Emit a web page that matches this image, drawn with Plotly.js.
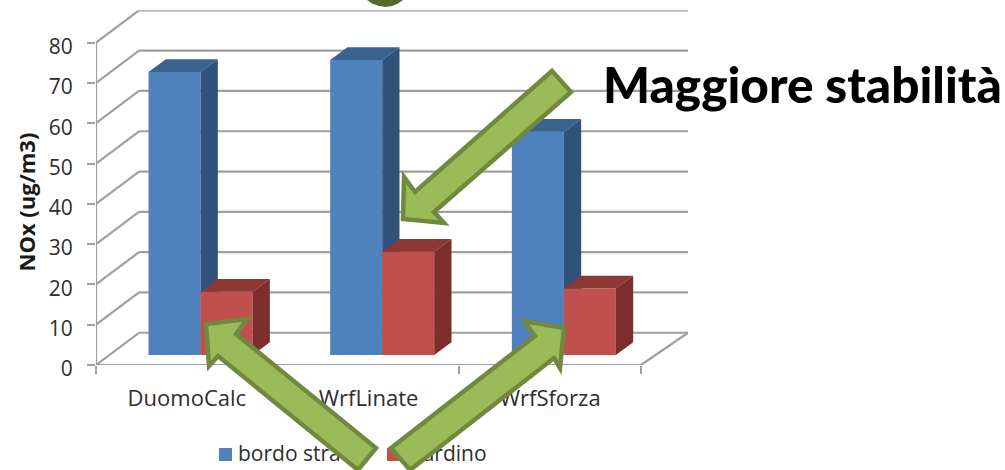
<!DOCTYPE html>
<html>
<head>
<meta charset="utf-8">
<script src="https://cdn.plot.ly/plotly-3.0.1.min.js"></script>
<style>html,body{margin:0;padding:0;background:#fff}#chart{width:1005px;height:470px}</style>
</head>
<body>
<div id="chart"></div>
<script>
// NOx concentration per model, roadside versus garden
const categories = ['DuomoCalc', 'WrfLinate', 'WrfSforza'];
const seriesNames = ['bordo strada', 'giardino'];
const bordoStrada = [70.2, 73.2, 55.4];
const giardino = [15.7, 25.6, 16.5];
const yTicks = [0, 10, 20, 30, 40, 50, 60, 70, 80];

// Page geometry of the pseudo-3D chart, in pixels
const W = 1005, H = 470;
const catPx = 181.67, unitPx = 4.03;
const axisLeft = 96, axisBottom = 365;
const wallDepthLeft = 43 / catPx, wallDepthRight = 47 / catPx, wallDepthVal = 8;
const barShiftX = 13.7, barShiftY = 10;
const barWidth = 52 / catPx;
const barDepthCat = 17.3 / catPx, barDepthVal = 12.8 / unitPx;

const xRange = [-0.5, 2.5 + wallDepthRight];
const yRange = [0, 80 + wallDepthVal];
const xSpan = (xRange[1] - xRange[0]) * catPx;
const ySpan = (yRange[1] - yRange[0]) * unitPx;

const px = x => x / W;
const py = y => 1 - y / H;
const xDomain = shift => [px(axisLeft + shift), px(axisLeft + shift + xSpan)];
const yDomain = shift => [py(axisBottom - shift), py(axisBottom - shift - ySpan)];

const GRID = '#a0a0a0';
const TEXT = '#2e2e2e';
const BLUE = {front: '#4f81bd', top: '#3a6291', side: '#31527b'};
const RED = {front: '#c0504d', top: '#8e3836', side: '#7b2e2c'};

// Wire frame: side wall, back wall, floor
function frameTrace() {
  const xs = [], ys = [];
  const seg = (x0, y0, x1, y1) => { xs.push(x0, x1, null); ys.push(y0, y1, null); };
  const x0 = xRange[0], x1 = 2.5;
  yTicks.forEach(v => {
    seg(x0, v, x0 + wallDepthLeft, v + wallDepthVal);
    seg(x0 + wallDepthLeft, v + wallDepthVal, x1 + wallDepthRight, v + wallDepthVal);
  });
  seg(x0, 0, x0, 80);
  seg(x0, 0, x1, 0);
  seg(x1, 0, x1 + wallDepthRight, wallDepthVal);
  return {x: xs, y: ys, mode: 'lines', line: {color: GRID, width: 2.2},
          xaxis: 'x', yaxis: 'y', hoverinfo: 'skip', showlegend: false};
}

// Top and side faces follow each bar's value
function faceTrace(values, offset, face, color, ax) {
  const xs = [], ys = [];
  values.forEach((v, i) => {
    const l = i + offset, r = l + barWidth;
    const pts = face === 'top'
      ? [[l, v], [r, v], [r + barDepthCat, v + barDepthVal], [l + barDepthCat, v + barDepthVal]]
      : [[r, 0], [r + barDepthCat, barDepthVal], [r + barDepthCat, v + barDepthVal], [r, v]];
    pts.forEach(p => { xs.push(p[0]); ys.push(p[1]); });
    xs.push(pts[0][0], null); ys.push(pts[0][1], null);
  });
  return {x: xs, y: ys, mode: 'lines', fill: 'toself', fillcolor: color,
          line: {width: 0, color: color}, xaxis: 'x' + ax, yaxis: 'y' + ax,
          hoverinfo: 'skip', showlegend: false};
}

function barTrace(name, values, offset, color, ax) {
  return {type: 'bar', name: name, x: [0, 1, 2], y: values,
          width: barWidth, offset: offset, marker: {color: color, line: {width: 0}},
          xaxis: 'x' + ax, yaxis: 'y' + ax, showlegend: false};
}

// Key entries sit on their own full-page layer so the arrows can pass over them
function keySwatch(color, swatchX) {
  return {x: [swatchX], y: [454.5], mode: 'markers',
          marker: {symbol: 'square', size: 13, color: color},
          xaxis: 'x4', yaxis: 'y4', hoverinfo: 'skip', showlegend: false};
}
function keyLabel(name, textX) {
  return {x: [textX], y: [455.5], mode: 'text', text: [name], textposition: 'middle right',
          textfont: {family: 'Open Sans', size: 21, color: TEXT},
          xaxis: 'x4', yaxis: 'y4', hoverinfo: 'skip', showlegend: false};
}

const data = [
  frameTrace(),
  barTrace(seriesNames[0], bordoStrada, -barWidth, BLUE.front, '2'),
  faceTrace(bordoStrada, -barWidth, 'top', BLUE.top, '2'),
  faceTrace(bordoStrada, -barWidth, 'side', BLUE.side, '2'),
  barTrace(seriesNames[1], giardino, 0, RED.front, '3'),
  faceTrace(giardino, 0, 'top', RED.top, '3'),
  faceTrace(giardino, 0, 'side', RED.side, '3'),
  keySwatch(BLUE.front, 225.5),
  keyLabel(seriesNames[0], 238),
  keySwatch(RED.front, 393.5),
  keyLabel(seriesNames[1], 406)
];

const hiddenAxis = extra => Object.assign({visible: false, fixedrange: true}, extra);

// Block arrows, vertices in page pixels
function arrowPath(points) {
  return 'M' + points.map(p => px(p[0]).toFixed(5) + ',' + py(p[1]).toFixed(5)).join('L') + 'Z';
}
const arrowOutlines = [
  [[552, 71], [571, 92], [434, 212], [444, 223], [403, 219], [404, 177], [415, 192]],
  [[376, 448], [358, 470], [218, 356], [209, 366], [206, 324], [247, 319], [236, 334]],
  [[391, 448], [410, 470], [554, 358], [560, 368], [564, 328], [524, 321], [535, 336]]
];
const shapes = arrowOutlines.map(points => ({
  type: 'path', xref: 'paper', yref: 'paper', layer: 'above', path: arrowPath(points),
  fillcolor: '#9bbb59', line: {color: '#71893f', width: 4.5}
}));
// Tail of a heading letter cut off by the top edge
shapes.push({
  type: 'path', xref: 'paper', yref: 'paper', layer: 'above',
  path: arrowPath([[367, 0], [372, 3.5], [379, 6], [386, 7], [392, 6], [398, 3.5], [403, 0]]),
  fillcolor: '#556b2a', line: {width: 0}
});

const layout = {
  width: W, height: H,
  margin: {l: 0, r: 0, t: 0, b: 0},
  paper_bgcolor: '#ffffff',
  plot_bgcolor: 'rgba(0,0,0,0)',
  showlegend: false,
  hovermode: false,
  barmode: 'overlay',
  font: {family: 'Open Sans', color: TEXT},
  xaxis: {
    domain: xDomain(0), range: xRange, fixedrange: true, showgrid: false, zeroline: false,
    tickmode: 'array', tickvals: [0, 1, 2], ticktext: categories, ticks: '',
    tickfont: {family: 'Open Sans', size: 22, color: TEXT}, ticklabelstandoff: 18,
    minor: {tickmode: 'array', tickvals: [-0.5, 0.5, 1.5, 2.5], ticks: 'outside', ticklen: 8, tickwidth: 2, tickcolor: GRID, showgrid: false}
  },
  yaxis: {
    domain: yDomain(0), range: yRange, fixedrange: true, showgrid: false, zeroline: false,
    tickmode: 'array', tickvals: yTicks, ticks: 'outside', ticklen: 8, tickwidth: 2, tickcolor: GRID,
    tickfont: {family: 'Open Sans', size: 21, color: TEXT}, ticklabelstandoff: 10, ticklabelshift: 4
  },
  xaxis2: hiddenAxis({domain: xDomain(barShiftX), range: xRange, anchor: 'y2'}),
  yaxis2: hiddenAxis({domain: yDomain(barShiftY), range: yRange, anchor: 'x2'}),
  xaxis3: hiddenAxis({domain: xDomain(barShiftX), range: xRange, anchor: 'y3'}),
  yaxis3: hiddenAxis({domain: yDomain(barShiftY), range: yRange, anchor: 'x3'}),
  xaxis4: hiddenAxis({domain: [0, 1], range: [0, W], anchor: 'y4'}),
  yaxis4: hiddenAxis({domain: [0, 1], range: [H, 0], anchor: 'x4'}),
  shapes: shapes,
  annotations: [
    {text: '<b>NOx (ug/m3)</b>', textangle: -90, xref: 'paper', yref: 'paper', showarrow: false,
     x: px(25.5), y: py(202), xanchor: 'center', yanchor: 'middle',
     font: {family: 'Open Sans', size: 22, color: '#1a1a1a'}},
    {text: 'Maggiore stabilità', xref: 'paper', yref: 'paper', showarrow: false,
     x: px(601), y: py(84), xanchor: 'left', yanchor: 'middle',
     font: {family: 'Lato', size: 49.5, weight: 900, color: '#000000'}}
  ]
};

Plotly.newPlot('chart', data, layout, {staticPlot: true, displayModeBar: false});
</script>
</body>
</html>
